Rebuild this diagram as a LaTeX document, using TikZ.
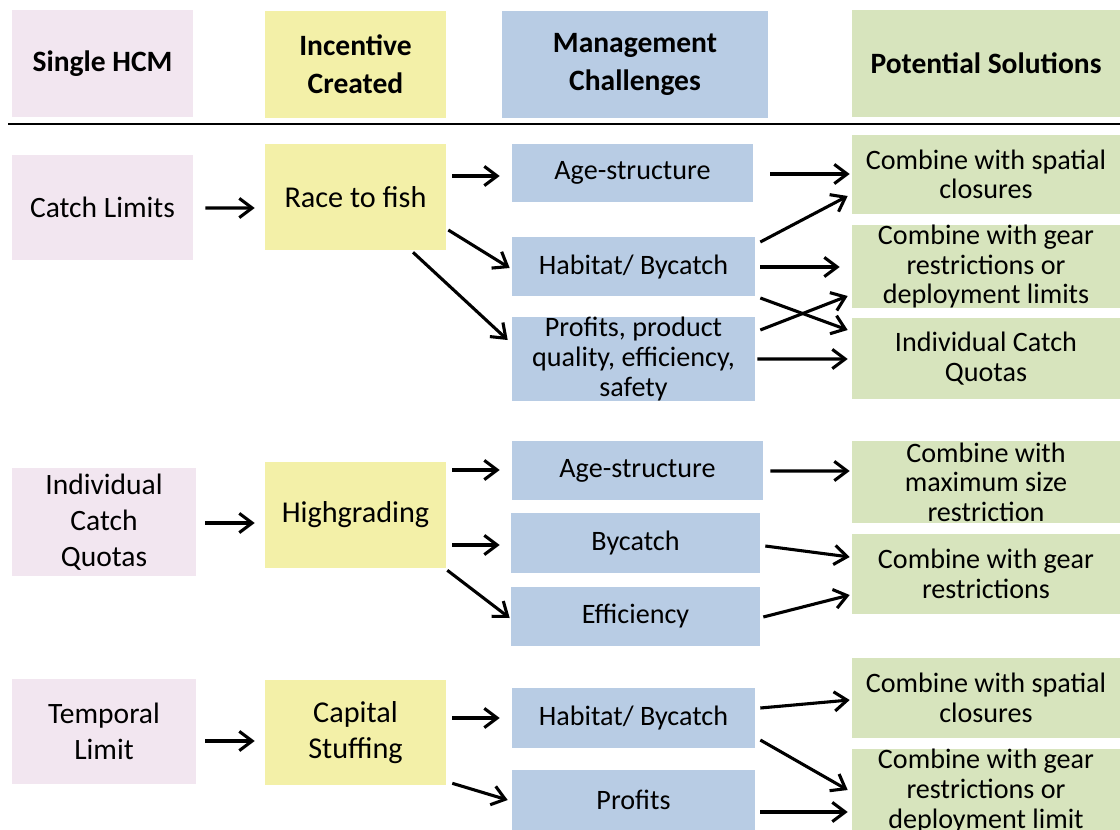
\documentclass[tikz,border=0pt]{standalone}
\usepackage{fontspec}
\setmainfont{Carlito}
\usepackage{tikz}
\usetikzlibrary{positioning}
\usetikzlibrary{arrows.meta}
\definecolor{hcmpink}{RGB}{242,230,240}
\definecolor{incyellow}{RGB}{243,240,168}
\definecolor{chblue}{RGB}{184,204,228}
\definecolor{solgreen}{RGB}{215,228,189}
\tikzset{
 box/.style={rectangle,align=center,inner sep=0pt,font=\fontsize{21}{25.5}\selectfont},
 head/.style={box,minimum height=2.675cm,font=\fontsize{21}{27}\selectfont\bfseries},
 hcm/.style={box,fill=hcmpink},
 inc/.style={box,fill=incyellow,minimum width=4.525cm,font=\fontsize{21.5}{25.5}\selectfont},
 ch/.style={box,fill=chblue,font=\fontsize{20}{21}\selectfont},
 sol/.style={box,fill=solgreen,minimum width=6.7cm,font=\fontsize{20}{21}\selectfont},
 arr/.style={-{Straight Barb[length=3.2mm,width=4.8mm]},line width=2.2pt}
}

\begin{document}
\begin{tikzpicture}[x=0.025cm,y=-0.025cm]
\useasboundingbox (0,0) rectangle (1120,830);
\clip (0,0) rectangle (1120,830);
\node[head,fill=hcmpink,minimum width=4.525cm] (hhcm) at (102.5,63.5) {Single HCM};
\node[head,fill=incyellow,minimum width=4.525cm] (hinc) at (355.5,64.5) {Incentive\\Created};
\node[head,fill=chblue,minimum width=6.65cm] (hch) at (635,64.5) {Management\\Challenges};
\node[head,fill=solgreen,minimum width=6.7cm] (hsol) at (986,63.5) {Potential Solutions};
\draw[line width=2pt] (8,124) -- (1120,124);

\node[hcm,minimum width=4.525cm,minimum height=2.625cm] (cl) at (102.5,207.5) {Catch Limits};
\node[inc,minimum height=2.65cm] (race) at (355.5,197) {Race to fish};
\node[ch,minimum width=6.025cm,minimum height=1.45cm] (age1) at (632.5,173) {Age-structure};
\node[ch,minimum width=6.075cm,minimum height=1.475cm] (hab1) at (633.5,266.5) {Habitat/ Bycatch};
\node[ch,minimum width=6.075cm,minimum height=2.075cm] (prof1) at (633.5,359) {Profits, product\\quality, efficiency,\\safety};
\node[sol,minimum height=1.975cm] (sp1) at (986,174.5) {Combine with spatial\\closures};
\node[sol,minimum height=2.025cm] (gear1) at (986,266.5) {Combine with gear\\restrictions or\\deployment limits};
\node[sol,minimum height=2.025cm] (icq1) at (986,358.5) {Individual Catch\\Quotas};

\node[hcm,minimum width=4.6cm,minimum height=2.7cm] (icq) at (104,522) {Individual\\Catch\\Quotas};
\node[inc,minimum height=2.65cm] (high) at (355.5,515) {Highgrading};
\node[ch,minimum width=6.275cm,minimum height=1.475cm] (age2) at (637.5,470.5) {Age-structure};
\node[ch,minimum width=6.225cm,minimum height=1.5cm] (byc2) at (635.5,543) {Bycatch};
\node[ch,minimum width=6.225cm,minimum height=1.475cm] (eff2) at (635.5,616.5) {Efficiency};
\node[sol,minimum height=2.05cm] (max2) at (986,482) {Combine with\\maximum size\\restriction};
\node[sol,minimum height=1.975cm] (gear2) at (986,574) {Combine with gear\\restrictions};

\node[hcm,minimum width=4.6cm,minimum height=2.625cm] (tl) at (104,731.5) {Temporal\\Limit};
\node[inc,minimum height=2.625cm] (cap) at (355.5,732.5) {Capital\\Stuffing};
\node[ch,minimum width=6.075cm,minimum height=1.5cm] (hab3) at (633.5,718) {Habitat/ Bycatch};
\node[ch,minimum width=6.075cm,minimum height=1.5cm] (prof3) at (633.5,800) {Profits};
\node[sol,minimum height=2cm] (sp3) at (986,698) {Combine with spatial\\closures};
\node[sol,minimum height=2.075cm] (gear3) at (986,791) {Combine with gear\\restrictions or\\deployment limit};

\draw[arr] ([shift={(12,0.5)}]cl.east) -- ([shift={(-10,11)}]race.west);
\draw[arr] ([shift={(6,-21)}]race.east) -- ([shift={(-12,3)}]age1.west);
\draw[arr] ([shift={(2,33)}]race.east) -- ([shift={(-2,1.5)}]hab1.west);
\draw[arr] ([shift={(57.5,2)}]race.south) -- ([shift={(-4,-19)}]prof1.west);
\draw[arr] ([shift={(17,1)}]age1.east) -- ([shift={(-2,-0.5)}]sp1.west);
\draw[arr] ([shift={(5,-24.5)}]hab1.east) -- ([shift={(-4,21.5)}]sp1.west);
\draw[arr] ([shift={(5,0.5)}]hab1.east) -- ([shift={(-12,0.5)}]gear1.west);
\draw[arr] ([shift={(5,31.5)}]hab1.east) -- ([shift={(-4,-28.5)}]icq1.west);
\draw[arr] ([shift={(5,-29)}]prof1.east) -- ([shift={(-4,29.5)}]gear1.west);
\draw[arr] ([shift={(2,0)}]prof1.east) -- ([shift={(-4,0.5)}]icq1.west);

\draw[arr] ([shift={(9,1)}]icq.east) -- ([shift={(-10,8)}]high.west);
\draw[arr] ([shift={(6,-45)}]high.east) -- ([shift={(-12,-0.5)}]age2.west);
\draw[arr] ([shift={(6,30)}]high.east) -- ([shift={(-11,2)}]byc2.west);
\draw[arr] ([shift={(1,2)}]high.south east) -- ([shift={(-1,1.5)}]eff2.west);
\draw[arr] ([shift={(7,0.5)}]age2.east) -- ([shift={(-2,-11)}]max2.west);
\draw[arr] ([shift={(5,3)}]byc2.east) -- ([shift={(-2,-17)}]gear2.west);
\draw[arr] ([shift={(3,0.5)}]eff2.east) -- ([shift={(-2,21)}]gear2.west);

\draw[arr] ([shift={(9,9.5)}]tl.east) -- ([shift={(-10,8.5)}]cap.west);
\draw[arr] ([shift={(6,-14.5)}]cap.east) -- ([shift={(-12,0)}]hab3.west);
\draw[arr] ([shift={(6,-2)}]cap.south east) -- ([shift={(-4,0)}]prof3.west);
\draw[arr] ([shift={(5,-10)}]hab3.east) -- ([shift={(-2,2)}]sp3.west);
\draw[arr] ([shift={(5,22)}]hab3.east) -- ([shift={(-4,-1)}]gear3.west);
\draw[arr] ([shift={(5,12)}]prof3.east) -- ([shift={(-4,21)}]gear3.west);
\end{tikzpicture}
\end{document}
